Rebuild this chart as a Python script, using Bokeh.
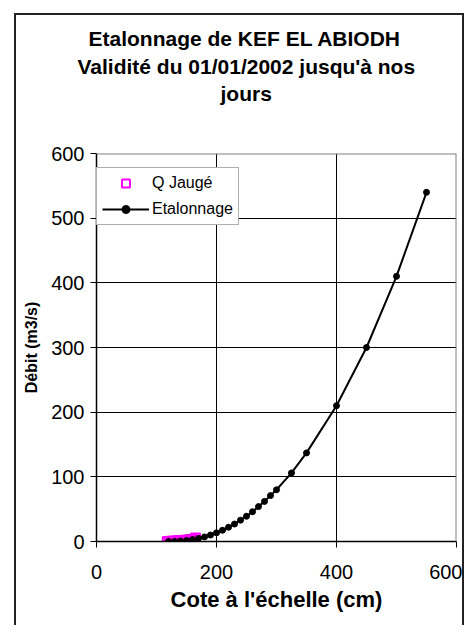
from bokeh.plotting import figure
from bokeh.models import FixedTicker, Legend, LegendItem, Title, Span
from bokeh.embed import file_html
from bokeh.resources import INLINE

# ---- data ----
title_lines = ["Etalonnage de KEF EL ABIODH",
               "Validité du 01/01/2002 jusqu'à nos",
               "jours"]
x_label = "Cote à l'échelle (cm)"
y_label = "Débit (m3/s)"
x_ticks = [0, 200, 400, 600]
y_ticks = [0, 100, 200, 300, 400, 500, 600]

# Q Jaugé (gauged discharges)
jauge_h = [118, 121, 124, 127, 130, 133, 136, 139, 142, 145, 148, 151, 154, 157, 160, 163, 165]
jauge_q = [0.0, 0.1, 0.2, 0.3, 0.4, 0.6, 0.8, 1.0, 1.2, 1.5, 1.8, 2.1, 2.5, 2.9, 3.2, 1.0, 5.5]

# Etalonnage (rating curve)
etal_h = [120, 130, 140, 150, 160, 170, 180, 190, 200, 210, 220, 230, 240, 250,
          260, 270, 280, 290, 300, 325, 350, 400, 450, 500, 550]
etal_q = [0.0, 0.15, 0.65, 1.5, 2.9, 4.8, 7.1, 10.0, 13.4, 17.4, 22.0, 27.0, 33.0, 39.0,
          46.0, 54.0, 62.0, 71.0, 80.0, 106.0, 137.0, 210.0, 300.0, 410.0, 540.0]

FONT = "Liberation Sans"

W, H = 450, 612
L, R, T, B = 80, 10, 138, H - 526

p = figure(width=W, height=H, x_range=(0, 600), y_range=(0, 600),
           output_backend="svg", toolbar_location=None,
           min_border_left=L, min_border_right=R, min_border_top=T, min_border_bottom=B,
           background_fill_color="white", border_fill_color="white",
           styles={"margin-left": "14px", "margin-top": "13px",
                   "border-left": "2px solid #222", "border-top": "2px solid #222",
                   "border-right": "2px solid #222"})
p.outline_line_color = None

# grids
p.xgrid.ticker = FixedTicker(ticks=x_ticks)
p.ygrid.ticker = FixedTicker(ticks=y_ticks)
for g in (p.xgrid, p.ygrid):
    g.grid_line_color = "#000000"
    g.grid_line_width = 1

# top/right plot-area border
p.add_layout(Span(location=600, dimension="width", line_color="#808080", line_width=2))
p.add_layout(Span(location=600, dimension="height", line_color="#808080", line_width=2))

# axes
for ax in (p.xaxis, p.yaxis):
    ax.axis_line_color = "black"
    ax.axis_line_width = 1.5
    ax.major_tick_line_color = "black"
    ax.major_tick_line_width = 1
    ax.major_tick_in = 0
    ax.major_tick_out = 6
    ax.minor_tick_line_color = None
    ax.major_label_text_font = FONT
    ax.major_label_text_font_size = "20px"
    ax.major_label_text_color = "black"
    ax.axis_label_text_font = FONT
    ax.axis_label_text_font_style = "bold"
    ax.axis_label_text_color = "black"
p.xaxis.ticker = FixedTicker(ticks=x_ticks)
p.yaxis.ticker = FixedTicker(ticks=y_ticks)
p.xaxis.axis_label = x_label
p.yaxis.axis_label = y_label
p.xaxis.axis_label_text_font_size = "22px"
p.yaxis.axis_label_text_font_size = "16px"
p.xaxis.major_label_standoff = 17
p.yaxis.major_label_standoff = 6
p.xaxis.axis_label_standoff = 5
p.yaxis.axis_label_standoff = 8

# series
r_j = p.scatter(jauge_h, jauge_q, marker="square", size=9, fill_color=None,
                line_color="#FF00FF", line_width=2)
r_l = p.line(etal_h, etal_q, line_color="black", line_width=2)
r_c = p.scatter(etal_h, etal_q, marker="circle", size=6, fill_color="black", line_color="black")

legend = Legend(items=[LegendItem(label="Q Jaugé", renderers=[r_j]),
                       LegendItem(label="Etalonnage", renderers=[r_l, r_c])],
                location=(0, 316), orientation="vertical")
legend.label_text_font = FONT
legend.label_text_font_size = "16px"
legend.label_text_color = "black"
legend.glyph_width = 47
legend.glyph_height = 20
legend.label_height = 20
legend.label_standoff = 3
legend.spacing = 6
legend.padding = 5
legend.margin = 0
legend.border_line_color = "#606060"
legend.border_line_width = 1
legend.background_fill_color = "white"
legend.background_fill_alpha = 1
p.add_layout(legend, "center")

# spacer between the plot area and the title block
p.add_layout(Title(text=" ", standoff=46, text_font_size="1px"), "above")

# title lines (nearest to the plot first)
offsets = [-8, -19, 124]
standoffs = [3, 3, 0]
for txt, off, so in reversed(list(zip(title_lines, offsets, standoffs))):
    p.add_layout(Title(text=txt, align="left", offset=off, standoff=so,
                       text_font=FONT, text_font_size="21px", text_font_style="bold",
                       text_color="black"), "above")

open("out.html", "w").write(file_html(p, INLINE))
